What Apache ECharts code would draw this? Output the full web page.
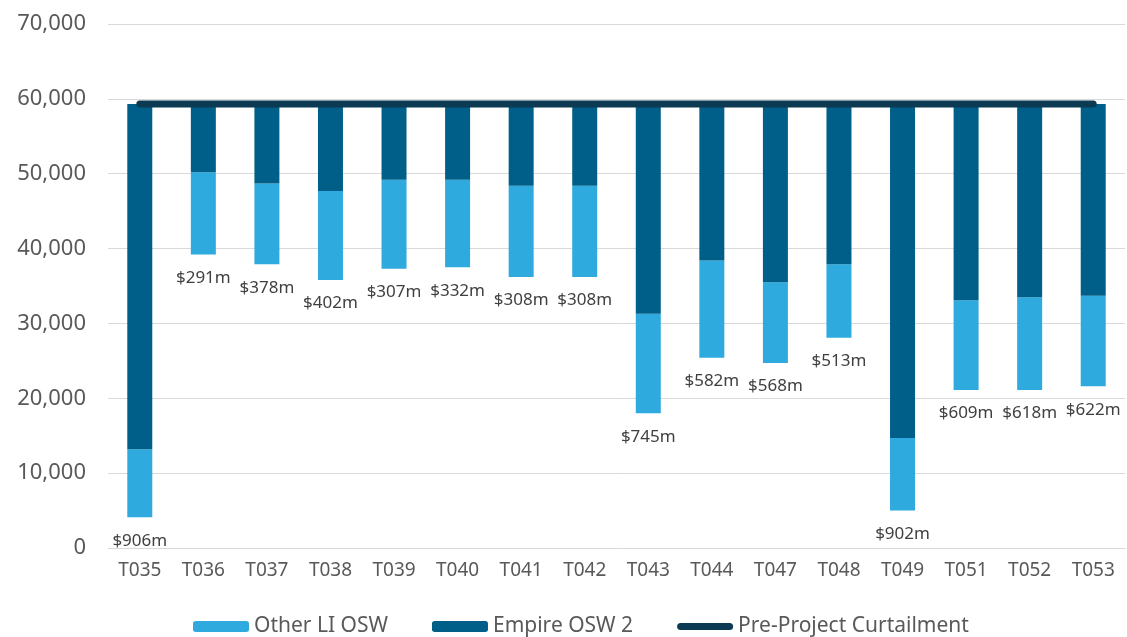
<!DOCTYPE html>
<html>
<head>
<meta charset="utf-8">
<script src="https://cdn.jsdelivr.net/npm/echarts@6/dist/echarts.min.js"></script>
<style>
html,body{margin:0;padding:0;background:#fff;}
#chart{width:1127px;height:637px;}
</style>
</head>
<body>
<div id="chart"></div>
<script>
// categories and values
var cats = ['T035','T036','T037','T038','T039','T040','T041','T042','T043','T044','T047','T048','T049','T051','T052','T053'];
var curtailment = [59300,59300,59300,59300,59300,59300,59300,59300,59300,59300,59300,59300,59300,59300,59300,59300];
var empireBottom = [13200,50200,48700,47700,49200,49200,48400,48400,31300,38400,35500,37900,14700,33100,33500,33700];
var otherBottom = [4100,39200,37900,35800,37300,37500,36200,36200,18000,25400,24700,28100,5000,21100,21100,21600];
var costLabels = ['$906m','$291m','$378m','$402m','$307m','$332m','$308m','$308m','$745m','$582m','$568m','$513m','$902m','$609m','$618m','$622m'];

var baseData = [], otherData = [], empireData = [];
for(var i=0;i<cats.length;i++){
	baseData.push(otherBottom[i]);
	otherData.push(empireBottom[i]-otherBottom[i]);
	empireData.push(curtailment[i]-empireBottom[i]);
}

var chart = echarts.init(document.getElementById('chart'));
var fnt = '"Noto Sans", sans-serif';
chart.setOption({
	animation:false,
	grid:{left:108, right:2, top:24, bottom:89, containLabel:false},
	legend:{
		top:611,
		left:188,
		itemWidth:56,
		itemHeight:11,
		itemGap:44,
		textStyle:{fontFamily:fnt, fontSize:21, color:'#595959'},
		data:[
			'Other LI OSW',
			'Empire OSW 2',
			{
				name:'Pre-Project Curtailment',
				icon:'path://M3.5,0 L52.5,0 A3.5,3.5 0 0 1 52.5,7 L3.5,7 A3.5,3.5 0 0 1 3.5,0 Z',
				itemStyle:{color:'#0b3a52'}
			}
		]
	},
	xAxis:{
		type:'category',
		data:cats,
		axisLine:{lineStyle:{color:'#d9d9d9', width:1}},
		axisTick:{show:false},
		axisLabel:{fontFamily:fnt, fontSize:19, color:'#595959', margin:13}
	},
	yAxis:{
		type:'value',
		min:0, max:70000, interval:10000,
		axisLine:{show:false},
		axisTick:{show:false},
		splitLine:{lineStyle:{color:'#d9d9d9', width:1}},
		axisLabel:{
			fontFamily:fnt, fontSize:22, color:'#595959', margin:22,
			formatter:function(v){ return v.toLocaleString('en-US'); }
		}
	},
	series:[
		{
			name:'base',
			type:'bar',
			stack:'s',
			barWidth:25,
			itemStyle:{color:'rgba(0,0,0,0)'},
			silent:true,
			data:baseData
		},
		{
			name:'Other LI OSW',
			type:'bar',
			stack:'s',
			barWidth:25,
			itemStyle:{color:'#2eaade'},
			label:{
				show:true,
				position:'bottom',
				distance:15,
				fontFamily:fnt, fontSize:17, color:'#404040',
				formatter:function(p){ return costLabels[p.dataIndex]; }
			},
			data:otherData
		},
		{
			name:'Empire OSW 2',
			type:'bar',
			stack:'s',
			barWidth:25,
			itemStyle:{color:'#005f88'},
			data:empireData
		},
		{
			name:'Pre-Project Curtailment',
			type:'line',
			symbol:'none',
			z:5,
			lineStyle:{color:'#0b3a52', width:7, cap:'round'},
			itemStyle:{color:'#0b3a52'},
			data:curtailment
		}
	]
});
</script>
</body>
</html>
